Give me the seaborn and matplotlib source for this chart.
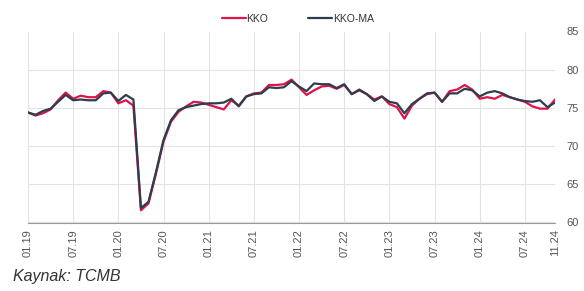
import matplotlib
matplotlib.use("Agg")
import matplotlib.pyplot as plt
import seaborn as sns
import pandas as pd

sns.set_theme(style="white")
plt.rcParams['font.family'] = ['Liberation Sans', 'DejaVu Sans']

# monthly, 01.19 .. 11.24
months = [f"{m:02d}.{y:02d}" for y in range(19, 25) for m in range(1, 13)][:71]

kko = [74.4, 74.0, 74.3, 74.8, 76.0, 77.0, 76.2, 76.6, 76.4, 76.4, 77.2, 77.0,
       75.6, 76.0, 75.3, 61.6, 62.5, 66.4, 70.6, 73.2, 74.5, 75.2, 75.8, 75.7,
       75.4, 75.1, 74.8, 76.0, 75.3, 76.5, 76.9, 77.0, 78.0, 78.0, 78.1, 78.7,
       77.7, 76.7, 77.3, 77.8, 77.9, 77.5, 78.0, 76.8, 77.3, 76.8, 76.1, 76.5,
       75.5, 75.1, 73.6, 75.3, 76.2, 76.8, 77.0, 75.8, 77.2, 77.4, 78.0, 77.4,
       76.2, 76.4, 76.2, 76.7, 76.4, 76.1, 75.8, 75.2, 74.9, 74.9, 76.1]

kko_ma = [74.4, 74.1, 74.6, 74.9, 75.8, 76.7, 76.0, 76.1, 76.0, 76.0, 76.9, 77.0,
          75.9, 76.7, 76.1, 61.9, 62.7, 66.6, 70.8, 73.4, 74.7, 75.1, 75.3, 75.5,
          75.6, 75.6, 75.7, 76.2, 75.2, 76.5, 76.8, 76.9, 77.7, 77.6, 77.7, 78.5,
          77.8, 77.2, 78.2, 78.1, 78.1, 77.6, 78.1, 76.8, 77.4, 76.8, 75.9, 76.5,
          75.8, 75.6, 74.3, 75.5, 76.2, 76.9, 77.0, 75.8, 76.9, 76.9, 77.5, 77.3,
          76.5, 77.0, 77.2, 76.9, 76.4, 76.1, 75.9, 75.8, 76.0, 75.1, 75.7]

tick_labels = ["01.19", "07.19", "01.20", "07.20", "01.21", "07.21", "01.22",
               "07.22", "01.23", "07.23", "01.24", "07.24", "11.24"]
y_ticks = [60, 65, 70, 75, 80, 85]

df = pd.DataFrame({"ay": range(len(months)), "KKO": kko, "KKO-MA": kko_ma})
df = df.melt(id_vars="ay", var_name="seri", value_name="deger")

fig = plt.figure(figsize=(5.84, 2.91), dpi=100)
ax = fig.add_axes([28 / 584, 1 - 222.5 / 291, 527 / 584, 191 / 291])

sns.lineplot(data=df, x="ay", y="deger", hue="seri", ax=ax,
             palette={"KKO": "#e0134b", "KKO-MA": "#2e3d4d"}, linewidth=1.6)

ax.set_xlim(0, len(months) - 1)
ax.set_ylim(60, 85)
ax.set_xticks([months.index(t) for t in tick_labels])
ax.set_xticklabels(tick_labels, rotation=90, fontsize=8, color="#555555")
ax.set_yticks(y_ticks)
ax.yaxis.tick_right()
ax.tick_params(axis="y", length=0, pad=8, labelsize=8, labelcolor="#555555")
ax.tick_params(axis="x", length=3, width=0.8, color="#999999", pad=2)
ax.set_xlabel("")
ax.set_ylabel("")

ax.grid(True, color="#e3e3e3", linewidth=0.8)
for s in ["left", "right", "top"]:
    ax.spines[s].set_visible(False)
ax.spines["bottom"].set_color("#999999")
ax.spines["bottom"].set_linewidth(0.8)

leg = ax.legend(loc="lower center", bbox_to_anchor=(0.512, 0.99), ncol=2,
                frameon=False, fontsize=7.5, handlelength=2.3, handletextpad=0.1,
                columnspacing=3.8)
for t in leg.get_texts():
    t.set_color("#333333")

fig.text(13 / 584, 1 - 277 / 291, "Kaynak: TCMB", fontsize=11.5, style="italic",
         color="#333333", va="center")

fig.savefig("out.png", dpi=100)
